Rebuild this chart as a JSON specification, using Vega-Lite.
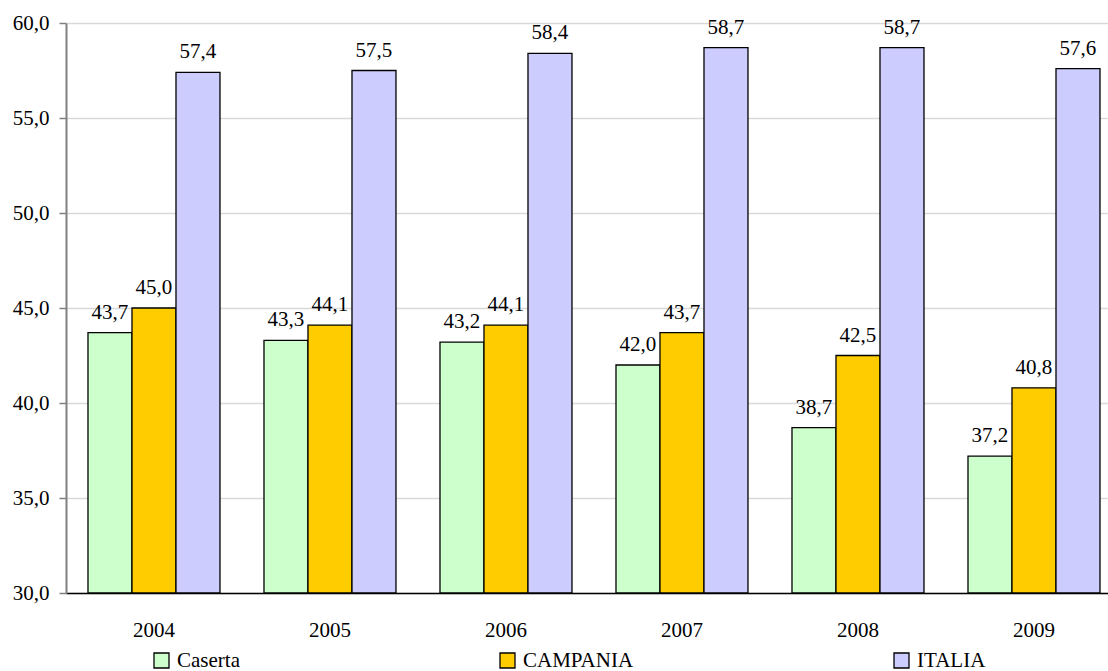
{
  "$schema": "https://vega.github.io/schema/vega-lite/v6.json",
  "autosize": "none",
  "width": 1042,
  "height": 570,
  "padding": {"left": 66, "top": 23, "right": 0, "bottom": 78},
  "background": "white",
  "config": {
    "locale": {"number": {"decimal": ",", "thousands": ".", "grouping": [3], "currency": ["", " €"]}},
    "font": "'Liberation Serif', 'DejaVu Serif', serif",
    "view": {"stroke": null}
  },
  "data": {
    "values": [
      {"anno": "2004", "serie": "Caserta", "valore": 43.7},
      {"anno": "2004", "serie": "CAMPANIA", "valore": 45.0},
      {"anno": "2004", "serie": "ITALIA", "valore": 57.4},
      {"anno": "2005", "serie": "Caserta", "valore": 43.3},
      {"anno": "2005", "serie": "CAMPANIA", "valore": 44.1},
      {"anno": "2005", "serie": "ITALIA", "valore": 57.5},
      {"anno": "2006", "serie": "Caserta", "valore": 43.2},
      {"anno": "2006", "serie": "CAMPANIA", "valore": 44.1},
      {"anno": "2006", "serie": "ITALIA", "valore": 58.4},
      {"anno": "2007", "serie": "Caserta", "valore": 42.0},
      {"anno": "2007", "serie": "CAMPANIA", "valore": 43.7},
      {"anno": "2007", "serie": "ITALIA", "valore": 58.7},
      {"anno": "2008", "serie": "Caserta", "valore": 38.7},
      {"anno": "2008", "serie": "CAMPANIA", "valore": 42.5},
      {"anno": "2008", "serie": "ITALIA", "valore": 58.7},
      {"anno": "2009", "serie": "Caserta", "valore": 37.2},
      {"anno": "2009", "serie": "CAMPANIA", "valore": 40.8},
      {"anno": "2009", "serie": "ITALIA", "valore": 57.6}
    ]
  },
  "encoding": {
    "x": {
      "field": "anno", "type": "nominal",
      "scale": {"paddingInner": 0.25, "paddingOuter": 0.0852, "align": 0.733},
      "axis": {
        "title": null, "labelAngle": 0, "ticks": false,
        "labelFontSize": 21, "labelColor": "black", "labelPadding": 26,
        "domainColor": "black", "domainWidth": 1.5, "labelFont": "'Liberation Serif', 'DejaVu Serif', serif"
      }
    },
    "xOffset": {"field": "serie", "type": "nominal", "sort": ["Caserta", "CAMPANIA", "ITALIA"], "scale": {"paddingInner": 0, "paddingOuter": 0}},
    "y": {
      "field": "valore", "type": "quantitative",
      "scale": {"domain": [30, 60], "zero": false, "nice": false},
      "axis": {
        "title": null, "values": [30, 35, 40, 45, 50, 55, 60], "format": ".1f",
        "labelFontSize": 21, "labelColor": "black", "labelPadding": 10,
        "tickSize": 7, "tickColor": "#808080", "domainColor": "#808080", "domainWidth": 2, "tickWidth": 1.5,
        "gridColor": "#d9d9d9", "gridWidth": 1.5, "labelFont": "'Liberation Serif', 'DejaVu Serif', serif"
      }
    }
  },
  "layer": [
    {
      "mark": {"type": "bar", "stroke": "black", "strokeWidth": 1.3},
      "encoding": {
        "y2": {"datum": 30},
        "color": {
          "field": "serie", "type": "nominal",
          "sort": ["Caserta", "CAMPANIA", "ITALIA"],
          "scale": {"domain": ["Caserta", "CAMPANIA", "ITALIA"], "range": ["#CCFFCC", "#FFCC00", "#CCCCFF"]},
          "legend": {
            "title": null, "orient": "none", "direction": "horizontal",
            "legendX": 85, "legendY": 627,
            "columns": 3, "gridAlign": "none", "columnPadding": 257,
            "symbolType": "square", "symbolSize": 225, "symbolStrokeColor": "black", "symbolStrokeWidth": 1.3,
            "labelFontSize": 21, "labelColor": "black", "labelOffset": 5, "labelFont": "'Liberation Serif', 'DejaVu Serif', serif"
          }
        }
      }
    },
    {
      "mark": {"type": "text", "baseline": "alphabetic", "align": "center", "dy": -14, "fontSize": 21, "color": "black", "font": "'Liberation Serif', 'DejaVu Serif', serif"},
      "encoding": {
        "text": {"field": "valore", "type": "quantitative", "format": ".1f"}
      }
    }
  ]
}
